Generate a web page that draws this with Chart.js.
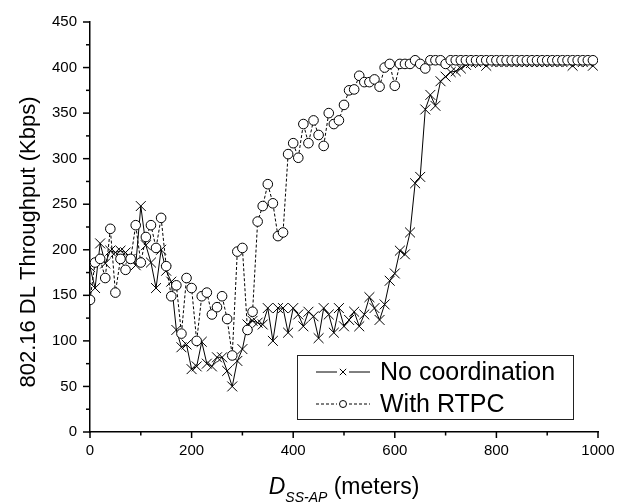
<!DOCTYPE html>
<html>
<head>
<meta charset="utf-8">
<script src="https://cdn.jsdelivr.net/npm/chart.js@4"></script>
<style>
  body { margin: 0; background: #fff; }
  canvas { display: block; }
</style>
</head>
<body>
<canvas id="chart" width="627" height="504"></canvas>
<script>
// distancia SS-AP (metros)
const distances = [
    0, 10, 20, 30, 40, 50, 60, 70, 80, 90,
    100, 110, 120, 130, 140, 150, 160, 170, 180, 190,
    200, 210, 220, 230, 240, 250, 260, 270, 280, 290,
    300, 310, 320, 330, 340, 350, 360, 370, 380, 390,
    400, 410, 420, 430, 440, 450, 460, 470, 480, 490,
    500, 510, 520, 530, 540, 550, 560, 570, 580, 590,
    600, 610, 620, 630, 640, 650, 660, 670, 680, 690,
    700, 710, 720, 730, 740, 750, 760, 770, 780, 790,
    800, 810, 820, 830, 840, 850, 860, 870, 880, 890,
    900, 910, 920, 930, 940, 950, 960, 970, 980, 990
];

const noCoordination = [
    181, 158, 207, 185, 199, 197, 199, 197, 190, 183,
    248, 205, 186, 158, 200, 177, 165, 112, 93, 96,
    69, 72, 99, 75, 72, 82, 82, 67, 50, 78,
    91, 118, 122, 120, 118, 136, 100, 136, 136, 109,
    136, 129, 116, 132, 127, 103, 136, 129, 109, 136,
    116, 123, 132, 116, 129, 148, 136, 123, 140, 166,
    174, 199, 195, 219, 273, 280, 354, 370, 358, 385,
    390, 395, 396, 399, 403, 405, 406, 406, 402, 406,
    406, 406, 406, 406, 406, 406, 406, 406, 406, 406,
    406, 406, 406, 406, 406, 402, 406, 406, 406, 402
];

const withRtpc = [
    145, 186, 190, 169, 223, 153, 190, 178, 190, 227,
    186, 214, 227, 202, 235, 182, 149, 161, 108, 169,
    158, 100, 149, 153, 129, 137, 149, 124, 84, 198,
    202, 112, 132, 231, 248, 272, 251, 215, 219, 305,
    317, 301, 338, 317, 342, 326, 314, 350, 338, 342,
    359, 375, 376, 391, 384, 384, 387, 379, 400, 404,
    380, 404, 404, 404, 408, 404, 399, 408, 408, 408,
    404, 408, 408, 408, 408, 408, 408, 408, 408, 408,
    408, 408, 408, 408, 408, 408, 408, 408, 408, 408,
    408, 408, 408, 408, 408, 408, 408, 408, 408, 408
];

const xTickValues = [0, 200, 400, 600, 800, 1000];
const yTickValues = [0, 50, 100, 150, 200, 250, 300, 350, 400, 450];

const FONT = 'Liberation Sans, Arial, sans-serif';

// desenha marcas menores, titulos e a legenda
const decor = {
    id: 'decor',
    afterDraw(chart) {
        const ctx = chart.ctx;
        const xs = chart.scales.x, ys = chart.scales.y;
        const area = chart.chartArea;
        ctx.save();
        ctx.strokeStyle = '#000';
        ctx.lineWidth = 1.5;

        // marcas do eixo x
        for (let i = 0; i < xTickValues.length; i++) {
            const v = xTickValues[i];
            let px = xs.getPixelForValue(v);
            ctx.beginPath(); ctx.moveTo(px, area.bottom); ctx.lineTo(px, area.bottom + 6); ctx.stroke();
            if (i < xTickValues.length - 1) {
                px = xs.getPixelForValue((v + xTickValues[i + 1]) / 2);
                ctx.beginPath(); ctx.moveTo(px, area.bottom); ctx.lineTo(px, area.bottom + 3.5); ctx.stroke();
            }
        }
        // marcas do eixo y
        for (let i = 0; i < yTickValues.length; i++) {
            const v = yTickValues[i];
            let py = ys.getPixelForValue(v);
            ctx.beginPath(); ctx.moveTo(area.left, py); ctx.lineTo(area.left - 7, py); ctx.stroke();
            if (i < yTickValues.length - 1) {
                py = ys.getPixelForValue((v + yTickValues[i + 1]) / 2);
                ctx.beginPath(); ctx.moveTo(area.left, py); ctx.lineTo(area.left - 4, py); ctx.stroke();
            }
        }

        ctx.fillStyle = '#000';
        // titulo do eixo y
        ctx.save();
        ctx.translate(29, 242);
        ctx.rotate(-Math.PI / 2);
        ctx.font = '22px ' + FONT;
        ctx.textAlign = 'center';
        ctx.textBaseline = 'middle';
        ctx.fillText('802.16 DL Throughput (Kbps)', 0, 0);
        ctx.restore();

        // titulo do eixo x: D_SS-AP (meters)
        ctx.textAlign = 'left';
        ctx.textBaseline = 'alphabetic';
        ctx.font = 'italic 23px ' + FONT;
        const wD = ctx.measureText('D').width;
        ctx.font = 'italic 14px ' + FONT;
        const wSub = ctx.measureText('SS-AP').width;
        ctx.font = '23px ' + FONT;
        const wRest = ctx.measureText(' (meters)').width;
        let tx = (area.left + area.right) / 2 - (wD + wSub + wRest) / 2;
        ctx.font = 'italic 23px ' + FONT;
        ctx.fillText('D', tx, 494);
        tx += wD;
        ctx.font = 'italic 14px ' + FONT;
        ctx.fillText('SS-AP', tx, 502);
        tx += wSub;
        ctx.font = '23px ' + FONT;
        ctx.fillText(' (meters)', tx, 494);

        // legenda
        ctx.lineWidth = 1;
        ctx.strokeStyle = '#222';
        ctx.strokeRect(297.5, 355.5, 276, 64);
        ctx.font = '25px ' + FONT;
        ctx.textBaseline = 'middle';
        chart.data.datasets.forEach((ds, i) => {
            const cy = 372 + i * 32;
            ctx.strokeStyle = '#000';
            ctx.lineWidth = 1;
            ctx.setLineDash(ds.borderDash || []);
            ctx.beginPath(); ctx.moveTo(316, cy); ctx.lineTo(337, cy); ctx.stroke();
            ctx.beginPath(); ctx.moveTo(349, cy); ctx.lineTo(370, cy); ctx.stroke();
            ctx.setLineDash([]);
            ctx.fillStyle = '#fff';
            Chart.helpers.drawPoint(ctx, {
                pointStyle: ds.pointStyle,
                radius: ds.pointStyle === 'circle' ? 3.5 : 4.5,
                borderWidth: 1,
                rotation: 0
            }, 343, cy);
            ctx.fillStyle = '#000';
            ctx.fillText(ds.label, 380, cy + 1);
        });
        ctx.restore();
    }
};

const ctx = document.getElementById('chart').getContext('2d');
new Chart(ctx, {
    type: 'line',
    data: {
        datasets: [
            {
                label: 'No coordination',
                data: distances.map((d, i) => ({ x: d, y: noCoordination[i] })),
                borderColor: '#000',
                borderWidth: 1,
                pointStyle: 'crossRot',
                pointRadius: 7,
                pointBorderColor: '#000',
                pointBorderWidth: 1,
                tension: 0,
                fill: false,
                order: 1
            },
            {
                label: 'With RTPC',
                data: distances.map((d, i) => ({ x: d, y: withRtpc[i] })),
                borderColor: '#000',
                borderWidth: 1,
                borderDash: [3, 2],
                pointStyle: 'circle',
                pointRadius: 4.8,
                pointBackgroundColor: '#fff',
                pointBorderColor: '#000',
                pointBorderWidth: 1,
                tension: 0,
                fill: false,
                order: 0
            }
        ]
    },
    options: {
        responsive: false,
        animation: false,
        layout: { padding: { top: 16, right: 29, left: 0, bottom: 0 } },
        plugins: { legend: { display: false }, tooltip: { enabled: false } },
        scales: {
            x: {
                type: 'linear',
                min: 0,
                max: 1000,
                afterBuildTicks: scale => { scale.ticks = xTickValues.map(v => ({ value: v })); },
                ticks: {
                    color: '#000', font: { family: FONT, size: 15 }, padding: 10, maxRotation: 0,
                    callback: v => String(v)
                },
                grid: { drawOnChartArea: false, drawTicks: false },
                border: { color: '#000', width: 1.5 },
                afterFit: scale => { scale.height = 72; }
            },
            y: {
                min: 0,
                max: 450,
                afterBuildTicks: scale => { scale.ticks = yTickValues.map(v => ({ value: v })); },
                ticks: { color: '#000', font: { family: FONT, size: 15 }, padding: 13, callback: v => String(v) },
                grid: { drawOnChartArea: false, drawTicks: false },
                border: { color: '#000', width: 1.5 },
                afterFit: scale => { scale.width = 90; }
            }
        }
    },
    plugins: [decor]
});
</script>
</body>
</html>
